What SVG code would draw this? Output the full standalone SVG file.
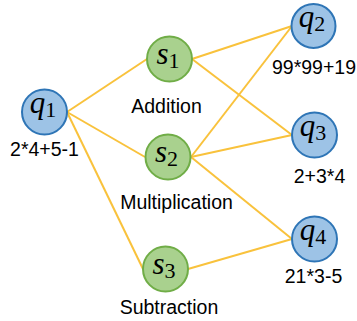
<svg xmlns="http://www.w3.org/2000/svg" width="357" height="321" viewBox="0 0 357 321">
<style>
.e{stroke:#F9C23C;stroke-width:2;fill:none}
.q{fill:#9DC3E6;stroke:#2E75B6;stroke-width:2}
.s{fill:#A9D18E;stroke:#70AD47;stroke-width:2}
.m{font-family:"Liberation Serif","DejaVu Serif",serif;font-style:italic;font-size:31px;fill:#000;text-anchor:middle}
.sub{font-family:"Liberation Serif","DejaVu Serif",serif;font-size:22px;font-style:normal}
.l{font-family:"Liberation Sans",Arial,sans-serif;font-size:19.5px;fill:#000;text-anchor:middle}
</style>
<rect width="357" height="321" fill="#fff"/>
<g id="connectors">
<line class="e" x1="67" y1="112" x2="147" y2="59"/>
<line class="e" x1="67" y1="112" x2="145" y2="157"/>
<line class="e" x1="67" y1="112" x2="143" y2="269"/>
<line class="e" x1="192" y1="59" x2="292" y2="26"/>
<line class="e" x1="192" y1="59" x2="292" y2="135"/>
<line class="e" x1="191" y1="157" x2="292" y2="26"/>
<line class="e" x1="191" y1="157" x2="292" y2="135"/>
<line class="e" x1="191" y1="157" x2="292" y2="239"/>
<line class="e" x1="188" y1="269" x2="292" y2="239"/>
</g>
<g id="q1"><circle class="q" cx="44.5" cy="112" r="22.5"/><text class="m" x="43" y="113">q<tspan class="sub" dy="4">1</tspan></text><text class="l" x="44.5" y="156">2*4+5-1</text></g>
<g id="s1"><circle class="s" cx="169.5" cy="59" r="22.5"/><text class="m" x="168" y="64">s<tspan class="sub" dy="4">1</tspan></text><text class="l" x="166.5" y="113">Addition</text></g>
<g id="s2"><circle class="s" cx="168" cy="157" r="22.5"/><text class="m" x="166.5" y="162">s<tspan class="sub" dy="4">2</tspan></text><text class="l" x="176.5" y="209">Multiplication</text></g>
<g id="s3"><circle class="s" cx="165.5" cy="269" r="22.5"/><text class="m" x="164" y="274">s<tspan class="sub" dy="4">3</tspan></text><text class="l" x="169" y="314">Subtraction</text></g>
<g id="q2"><circle class="q" cx="313.5" cy="26" r="22"/><text class="m" x="312" y="27">q<tspan class="sub" dy="4">2</tspan></text><text class="l" x="314" y="74">99*99+19</text></g>
<g id="q3"><circle class="q" cx="314.5" cy="135" r="22.5"/><text class="m" x="313" y="136">q<tspan class="sub" dy="4">3</tspan></text><text class="l" x="319.5" y="183">2+3*4</text></g>
<g id="q4"><circle class="q" cx="314.5" cy="239" r="22.5"/><text class="m" x="313" y="240">q<tspan class="sub" dy="4">4</tspan></text><text class="l" x="313.5" y="283">21*3-5</text></g>
</svg>
